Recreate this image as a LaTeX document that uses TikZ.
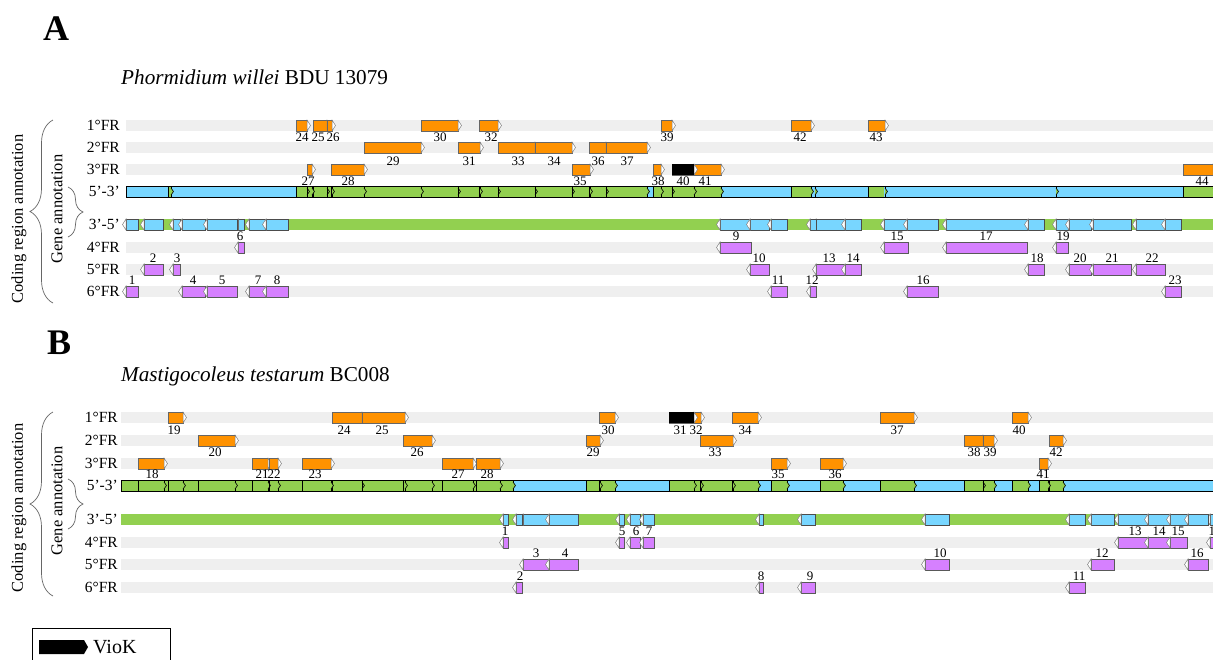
\documentclass[tikz,border=0pt]{standalone}
\usepackage{fontspec}
\setmainfont{Liberation Serif}
\usetikzlibrary{positioning,decorations.pathreplacing}

\definecolor{orf}{RGB}{255,146,0}
\definecolor{sky}{RGB}{120,214,255}
\definecolor{leaf}{RGB}{146,208,80}
\definecolor{lilac}{RGB}{214,128,255}
\definecolor{lane}{RGB}{239,239,239}

\tikzset{
  lanebar/.style = {fill=lane},
  orfbox/.style  = {draw=black!60, fill=orf, line width=0.6pt},
  lilbox/.style  = {draw=black!65, fill=lilac, line width=0.6pt},
  skybox/.style  = {draw=black!70, fill=sky, line width=0.6pt},
  tipmark/.style = {draw=black!50, fill=white, line width=0.5pt},
  cut/.style     = {draw=black, line width=0.6pt},
  num/.style     = {font=\fontsize{13}{13}\selectfont, inner sep=0pt},
  rowlab/.style  = {font=\fontsize{15.5}{16}\selectfont, anchor=east, inner sep=0pt},
  side/.style    = {font=\fontsize{16.5}{17}\selectfont, rotate=90, inner sep=0pt},
  curly/.style   = {decorate, decoration={brace, amplitude=#1}, draw=black!60, line width=0.7pt},
  panel/.style   = {font=\fontsize{36}{36}\selectfont\bfseries, anchor=base west, inner sep=0pt},
  species/.style = {font=\fontsize{21.2}{22}\selectfont, anchor=base west, inner sep=0pt},
  legend/.style  = {font=\fontsize{20}{20}\selectfont, inner sep=0pt}
}

% boundary on the 5'-3' strand: x, strand top
\newcommand{\strandmark}[2]{%
  \draw[cut] (#1,#2) -- (#1,#2+11);
  \draw[cut, fill=leaf] (#1,#2+2) -- (#1+2.5,#2+5.5) -- (#1,#2+9);}
% forward ORF: start, end, frame row, 5'-3' row
\newcommand{\fwd}[4]{%
  \draw[orfbox] (#1,#3) rectangle (#2,#3+11);
  \draw[tipmark] (#2,#3) -- (#2+3.5,#3+5.5) -- (#2,#3+11) -- cycle;
  \draw[cut] (#1,#4) -- (#1,#4+11);
  \strandmark{#2}{#4}}
% reverse ORF: start, end, frame row, 3'-5' row
\newcommand{\rev}[4]{%
  \draw[lilbox] (#1,#3) rectangle (#2,#3+11);
  \draw[tipmark] (#1,#3) -- (#1-3.5,#3+5.5) -- (#1,#3+11) -- cycle;
  \draw[skybox] (#1,#4) rectangle (#2,#4+11);
  \draw[tipmark] (#1,#4) -- (#1-3.5,#4+5.5) -- (#1,#4+11) -- cycle;}

\begin{document}
\begin{tikzpicture}[x=1pt, y=-1pt]
\clip (0,0) rectangle (1213,659);
\fill[white] (0,0) rectangle (1213,659);

% ---------------- panel A ----------------
\node[panel] (A) at (43,40) {A};
\node[species] (nameA) at (121,84) {\textit{Phormidium willei} BDU 13079};

\foreach \y in {120,142,164,242,264,286}
  \fill[lanebar] (126,\y) rectangle (1213,\y+11);
\foreach \y/\t [count=\i] in {125.5/1°FR, 147.5/2°FR, 169.5/3°FR, 191.5/5’-3’,
    224.5/3’-5’, 247.5/4°FR, 269.5/5°FR, 291.5/6°FR}
  \node[rowlab] (rowA\i) at (120,\y) {\t};

% strands
\fill[sky] (126,186) rectangle (1213,197);
\foreach \a/\b in {168/171, 296/648, 653/722, 791/811, 868/884, 1183/1213}
  \fill[leaf] (\a,186) rectangle (\b,197);
\fill[leaf] (126,219) rectangle (1213,230);

% 1st frame
\foreach \a/\b/\l/\x in {296/307/24/302, 313/327/25/318, 327/332/26/333, 421/458/30/440,
    479/498/32/491, 661/672/39/667, 791/811/42/800, 868/885/43/876}
  {\fwd{\a}{\b}{120}{186} \node[num] (fA\l) at (\x,137.5) {\l};}
% 2nd frame
\foreach \a/\b/\l/\x in {364/421/29/393, 458/480/31/469, 498/535/33/518, 535/572/34/554,
    589/606/36/598, 606/647/37/627}
  {\fwd{\a}{\b}{142}{186} \node[num] (fA\l) at (\x,161) {\l};}
% 3rd frame
\foreach \a/\b/\l/\x in {307/312/27/308, 331/364/28/348, 572/590/35/580, 653/661/38/658,
    694/721/41/705, 672/694/40/683, 1183/1213/44/1202}
  {\fwd{\a}{\b}{164}{186} \node[num] (fA\l) at (\x,181) {\l};}
\fill[black] (672,164) rectangle (694,175);

% 4th frame
\foreach \a/\b/\l/\x in {238/244/6/240, 720/751/9/736, 884/908/15/897, 946/1027/17/986,
    1056/1068/19/1063}
  {\rev{\a}{\b}{242}{219} \node[num] (rA\l) at (\x,236.5) {\l};}
% 5th frame
\foreach \a/\b/\l/\x in {144/163/2/153, 173/180/3/177, 750/769/10/759, 816/845/13/829,
    845/861/14/853, 1028/1044/18/1037, 1069/1091/20/1080, 1093/1131/21/1112, 1136/1165/22/1152}
  {\rev{\a}{\b}{264}{219} \node[num] (rA\l) at (\x,258) {\l};}
% 6th frame
\foreach \a/\b/\l/\x in {126/138/1/132, 182/205/4/193, 207/237/5/222, 249/265/7/258,
    266/288/8/277, 771/787/11/778, 810/816/12/812, 907/938/16/923, 1165/1181/23/1175}
  {\rev{\a}{\b}{286}{219} \node[num] (rA\l) at (\x,280) {\l};}

\draw[cut] (168,186) -- (168,197);
\foreach \x in {171,815,1056} \strandmark{\x}{186}
\draw[line width=0.9pt] (126,186) rectangle (1213,197);

\draw[curly=23] (53,303) -- (53,120);
\draw[curly=15] (68,187) -- (68,237);
\node[side] (codA) at (19,219) {Coding region annotation};
\node[side] (geneA) at (57,209) {Gene annotation};

% ---------------- panel B ----------------
\node[panel] (B) at (47,354) {B};
\node[species] (nameB) at (121,381) {\textit{Mastigocoleus testarum} BC008};

\foreach \y in {412,435,458,537,559,582}
  \fill[lanebar] (121,\y) rectangle (1213,\y+11);
\foreach \y/\t [count=\i] in {417.5/1°FR, 440.5/2°FR, 463.5/3°FR, 485.5/5’-3’,
    519.5/3’-5’, 542.5/4°FR, 564.5/5°FR, 587.5/6°FR}
  \node[rowlab] (rowB\i) at (118,\y) {\t};

% strands
\fill[sky] (121,480) rectangle (1213,491);
\foreach \a/\b in {121/513, 586/615, 669/758, 771/787, 820/843, 880/914, 964/994,
    1012/1028, 1039/1063}
  \fill[leaf] (\a,480) rectangle (\b,491);
\fill[leaf] (121,514) rectangle (1213,525);

% 1st frame
\foreach \a/\b/\l/\x in {168/183/19/174, 332/362/24/344, 362/405/25/382, 599/615/30/608,
    694/701/32/696, 669/694/31/680, 732/758/34/745, 880/914/37/897, 1012/1028/40/1019}
  {\fwd{\a}{\b}{412}{480} \node[num] (fB\l) at (\x,430) {\l};}
\fill[black] (669,412) rectangle (694,423);
% 2nd frame
\foreach \a/\b/\l/\x in {198/235/20/215, 403/432/26/417, 586/600/29/593, 700/733/33/715,
    964/983/38/974, 983/994/39/990, 1049/1063/42/1056}
  {\fwd{\a}{\b}{435}{480} \node[num] (fB\l) at (\x,452) {\l};}
% 3rd frame
\foreach \a/\b/\l/\x in {138/164/18/152, 252/268/21/262, 269/278/22/274, 302/331/23/315,
    442/473/27/458, 476/500/28/487, 771/787/35/778, 820/843/36/835, 1039/1048/41/1043}
  {\fwd{\a}{\b}{458}{480} \node[num] (fB\l) at (\x,474) {\l};}

% 4th frame
\foreach \a/\b/\l/\x in {503/508/1/505, 619/624/5/622, 630/640/6/636, 643/654/7/649,
    1118/1147/13/1135, 1148/1170/14/1159, 1170/1187/15/1178, 1210/1222/17/1215}
  {\rev{\a}{\b}{537}{514} \node[num] (rB\l) at (\x,531) {\l};}
% 5th frame
\foreach \a/\b/\l/\x in {523/549/3/536, 549/578/4/565, 925/949/10/940, 1091/1114/12/1102,
    1188/1208/16/1197}
  {\rev{\a}{\b}{559}{514} \node[num] (rB\l) at (\x,553) {\l};}
% 6th frame
\foreach \a/\b/\l/\x in {516/522/2/520, 759/763/8/761, 801/815/9/810, 1069/1085/11/1079}
  {\rev{\a}{\b}{582}{514} \node[num] (rB\l) at (\x,576) {\l};}

\strandmark{513}{480}
\draw[line width=0.9pt] (121,480) rectangle (1213,491);

\draw[curly=23] (53,596) -- (53,412);
\draw[curly=15] (68,479) -- (68,529);
\node[side] (codB) at (19,508) {Coding region annotation};
\node[side] (geneB) at (57,501) {Gene annotation};

% ---------------- key ----------------
\draw[line width=0.7pt] (32,628) rectangle (170,690);
\fill[black] (39,640) -- (84,640) -- (88,647) -- (84,654) -- (39,654) -- cycle;
\coordinate (keytip) at (88,647);
\node[legend, right=5pt of keytip] (viok) {VioK};
\end{tikzpicture}
\end{document}
